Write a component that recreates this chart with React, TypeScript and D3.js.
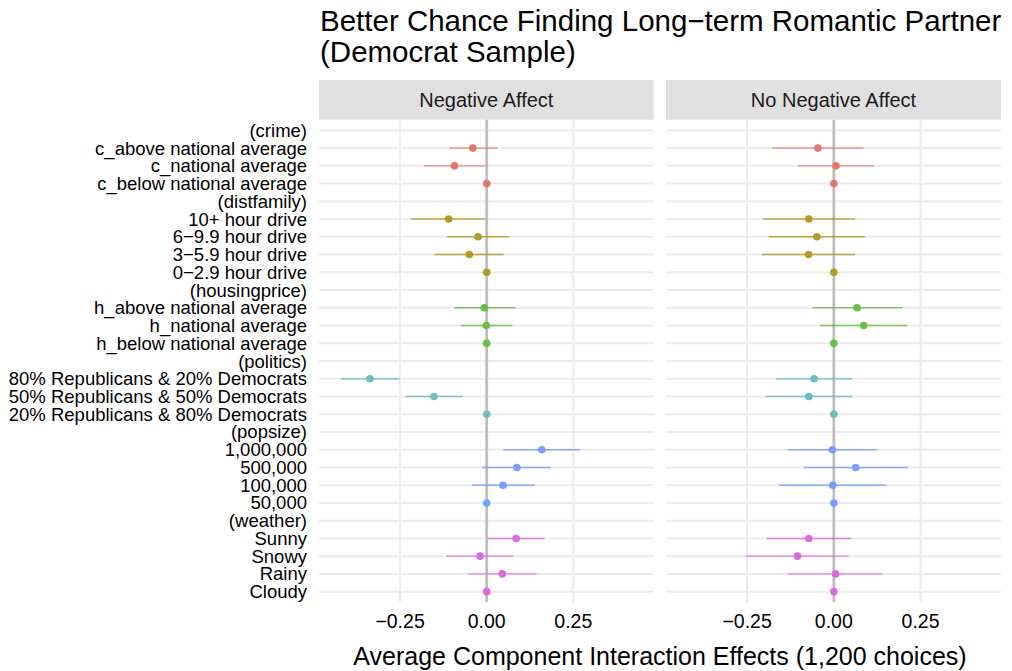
import React from "react";
import * as d3 from "d3";

const labels = [
  "(crime)", "c_above national average", "c_national average", "c_below national average",
  "(distfamily)", "10+ hour drive", "6\u22129.9 hour drive", "3\u22125.9 hour drive", "0\u22122.9 hour drive",
  "(housingprice)", "h_above national average", "h_national average", "h_below national average",
  "(politics)", "80% Republicans & 20% Democrats", "50% Republicans & 50% Democrats", "20% Republicans & 80% Democrats",
  "(popsize)", "1,000,000", "500,000", "100,000", "50,000",
  "(weather)", "Sunny", "Snowy", "Rainy", "Cloudy",
];
const groupOf = [
  0, 0, 0, 0,
  1, 1, 1, 1, 1,
  2, 2, 2, 2,
  3, 3, 3, 3,
  4, 4, 4, 4, 4,
  5, 5, 5, 5, 5,
];
const panels = ["Negative Affect", "No Negative Affect"];

const negEst = [null, -0.040, -0.093, 0, null, -0.110, -0.025, -0.050, 0, null, -0.007, -0.001, 0, null, -0.337, -0.152, 0, null, 0.159, 0.087, 0.047, 0, null, 0.085, -0.019, 0.045, 0];
const negLo = [null, -0.108, -0.181, 0, null, -0.218, -0.115, -0.151, 0, null, -0.094, -0.075, 0, null, -0.421, -0.234, 0, null, 0.048, -0.013, -0.043, 0, null, 0.003, -0.117, -0.054, 0];
const negHi = [null, 0.031, -0.006, 0, null, -0.003, 0.064, 0.049, 0, null, 0.082, 0.074, 0, null, -0.251, -0.069, 0, null, 0.269, 0.185, 0.138, 0, null, 0.167, 0.077, 0.144, 0];

const noEst = [null, -0.046, 0.006, 0, null, -0.072, -0.049, -0.073, 0, null, 0.067, 0.086, 0, null, -0.057, -0.072, 0, null, -0.004, 0.063, -0.003, 0, null, -0.072, -0.105, 0.005, 0];
const noLo = [null, -0.177, -0.104, 0, null, -0.204, -0.188, -0.208, 0, null, -0.061, -0.040, 0, null, -0.166, -0.197, 0, null, -0.133, -0.087, -0.158, 0, null, -0.194, -0.254, -0.133, 0];
const noHi = [null, 0.085, 0.116, 0, null, 0.061, 0.090, 0.061, 0, null, 0.197, 0.212, 0, null, 0.053, 0.054, 0, null, 0.124, 0.214, 0.151, 0, null, 0.050, 0.042, 0.142, 0];

const xTicks = [-0.25, 0, 0.25];
const xDomain: [number, number] = [-0.484, 0.482];
const groupColors = ["#E2766E", "#B39C25", "#6BBD45", "#6CBEC4", "#779EFF", "#DA6BDE"];

const titleLines = ["Better Chance Finding Long\u2212term Romantic Partner", "(Democrat Sample)"];
const xTitle = "Average Component Interaction Effects (1,200 choices)";

const FONT = "'Liberation Sans', Arial, Helvetica, sans-serif";

export default function App() {
  const W = 1012, H = 671;
  const panelX = [[319, 653.7], [666, 1001]];
  const panelTop = 119.7, panelBottom = 602.3;
  const stripTop = 80;

  const y = d3.scalePoint<string>().domain(labels).range([panelTop, panelBottom]).padding(0.6);
  const data = [
    { est: negEst, lo: negLo, hi: negHi },
    { est: noEst, lo: noLo, hi: noHi },
  ];
  const fmt = d3.format(".2f");
  const tickLabel = (v: number) => (v < 0 ? "\u2212" + fmt(-v) : fmt(v));

  return (
    <svg width={W} height={H} style={{ position: "absolute", left: 0, top: 0, background: "#fff" }} fontFamily={FONT}>
      <rect x={0} y={0} width={W} height={H} fill="#fff" />
      {titleLines.map((t, i) => (
        <text key={i} x={320} y={31 + i * 31} fontSize={29.5} fill="#000">{t}</text>
      ))}
      {labels.map((l, i) => (
        <text key={l} x={307} y={(y(l) as number) + 6.5} textAnchor="end" fontSize={18.5} fill="#000">{l}</text>
      ))}
      {panels.map((p, pi) => {
        const [x0, x1] = panelX[pi];
        const x = d3.scaleLinear().domain(xDomain).range([x0, x1]);
        const d = data[pi];
        return (
          <g key={p}>
            <rect x={x0} y={stripTop} width={x1 - x0} height={panelTop - stripTop} fill="#E0E0E0" />
            <text x={(x0 + x1) / 2} y={(stripTop + panelTop) / 2 + 7} textAnchor="middle" fontSize={20} fill="#1a1a1a">{p}</text>
            {labels.map((l) => (
              <line key={"h" + l} x1={x0} x2={x1} y1={y(l)} y2={y(l)} stroke="#EBEBEB" strokeWidth={2} />
            ))}
            {xTicks.map((t) => (
              <line key={"v" + t} x1={x(t)} x2={x(t)} y1={panelTop} y2={panelBottom} stroke="#EBEBEB" strokeWidth={2} />
            ))}
            <line x1={x(0)} x2={x(0)} y1={panelTop} y2={panelBottom} stroke="#BEBEBE" strokeWidth={2.8} />
            {labels.map((l, i) => {
              const e = d.est[i];
              if (e === null) return null;
              const c = groupColors[groupOf[i]];
              const yy = y(l) as number;
              return (
                <g key={"m" + l}>
                  <line x1={x(d.lo[i] as number)} x2={x(d.hi[i] as number)} y1={yy} y2={yy} stroke={c} strokeWidth={1.4} strokeOpacity={0.85} />
                  <circle cx={x(e)} cy={yy} r={3.8} fill={c} />
                </g>
              );
            })}
            {xTicks.map((t) => (
              <text key={"t" + t} x={x(t)} y={628} textAnchor="middle" fontSize={19.5} fill="#000">{tickLabel(t)}</text>
            ))}
          </g>
        );
      })}
      <text x={(panelX[0][0] + panelX[1][1]) / 2} y={665} textAnchor="middle" fontSize={25} fill="#000">{xTitle}</text>
    </svg>
  );
}
